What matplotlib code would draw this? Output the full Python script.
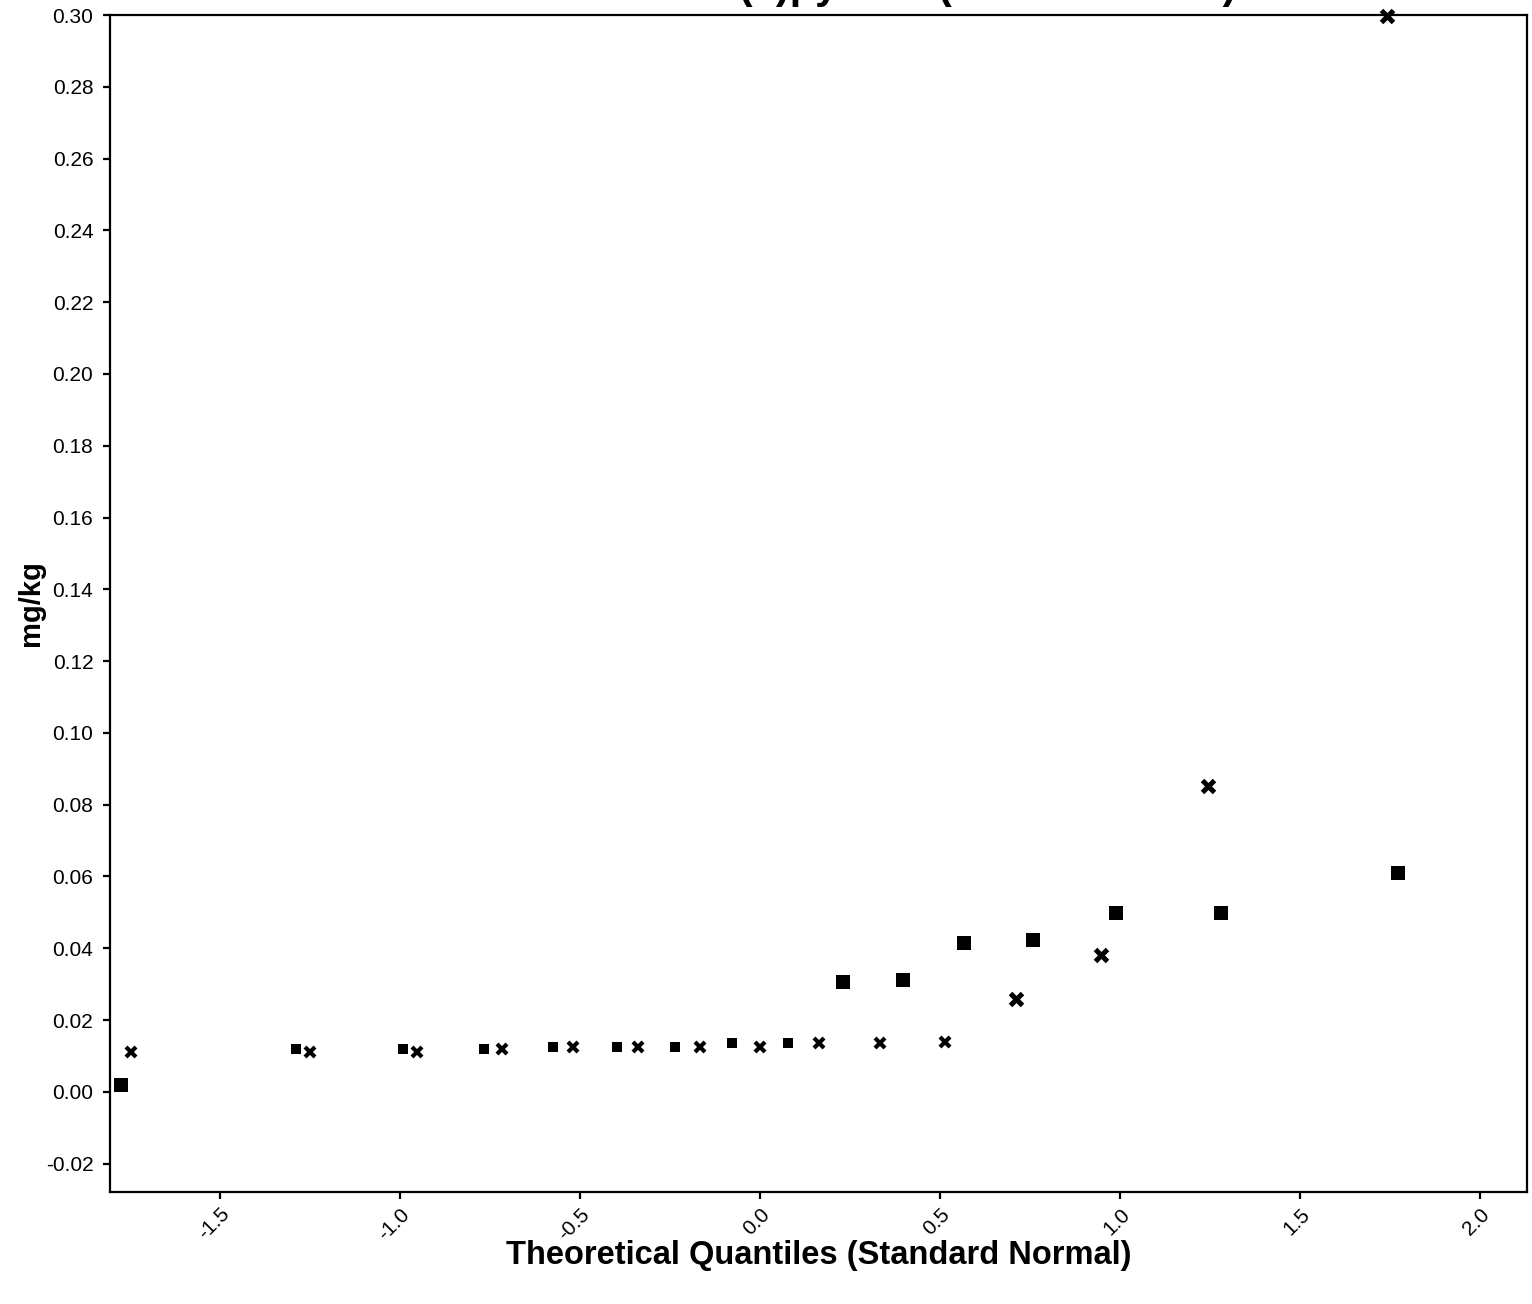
import matplotlib.pyplot as plt

plt.rcParams['font.family'] = ['Liberation Sans', 'DejaVu Sans']

# station 1 (squares): theoretical quantile, concentration
sq_det_q = [-1.775, 0.231, 0.397, 0.567, 0.758, 0.989, 1.281, 1.772]
sq_det_val = [0.002, 0.0306, 0.0312, 0.0415, 0.0423, 0.0499, 0.0499, 0.061]
sq_nd_q = [-1.289, -0.992, -0.767, -0.575, -0.397, -0.236, -0.078, 0.078]
sq_nd_val = [0.012, 0.012, 0.012, 0.0125, 0.0125, 0.0125, 0.0137, 0.0137]

# station 2 (crosses)
x_det_q = [0.711, 0.947, 1.244, 1.742]
x_det_val = [0.026, 0.038, 0.0853, 0.2998]
x_nd_q = [-1.747, -1.25, -0.953, -0.717, -0.519, -0.339, -0.167, 0.0,
          0.164, 0.333, 0.514]
x_nd_val = [0.011, 0.011, 0.011, 0.012, 0.0125, 0.0125, 0.0125, 0.0125,
            0.0137, 0.0137, 0.014]

x_ticks = [-1.5, -1.0, -0.5, 0.0, 0.5, 1.0, 1.5, 2.0]
y_ticks = [-0.02, 0.00, 0.02, 0.04, 0.06, 0.08, 0.10, 0.12, 0.14, 0.16,
           0.18, 0.20, 0.22, 0.24, 0.26, 0.28, 0.30]

fig = plt.figure(figsize=(15.32, 13.04), dpi=100)
ax = fig.add_axes([110 / 1532, 1 - 1192 / 1304, 1417 / 1532, 1177 / 1304])

ax.plot(sq_det_q, sq_det_val, 's', color='black', ms=9.5, mew=0, clip_on=False)
ax.plot(sq_nd_q, sq_nd_val, 's', color='black', ms=7, mew=0, clip_on=False)
ax.plot(x_det_q, x_det_val, 'x', color='black', ms=8.5, mew=3.6, clip_on=False)
ax.plot(x_nd_q, x_nd_val, 'x', color='black', ms=6.5, mew=3.0, clip_on=False)

ax.set_xlim(-1.806, 2.131)
ax.set_ylim(-0.0279, 0.30)
ax.set_xticks(x_ticks)
ax.set_xticklabels([f'{t:.1f}' for t in x_ticks], rotation=45, ha='right',
                   rotation_mode='anchor')
ax.set_yticks(y_ticks)
ax.set_yticklabels([f'{t:.2f}' for t in y_ticks])
ax.tick_params(direction='out', length=5, width=1.6, labelsize=15)
ax.tick_params(axis='y', pad=7)
ax.tick_params(axis='x', pad=4)
for s in ax.spines.values():
    s.set_linewidth(1.6)

ax.set_xlabel('Theoretical Quantiles (Standard Normal)', fontsize=23.5,
              fontweight='bold')
ax.xaxis.set_label_coords(0.5, -0.041)
ax.set_ylabel('mg/kg', fontsize=21, fontweight='bold')
ax.yaxis.set_label_coords(-0.046, 0.5)

# title sits mostly above the top edge of the canvas
fig.text(1236 / 1532, 1 + 2 / 1304, 'Benzo(a)pyrene (Both Stations)',
         ha='right', va='baseline', fontsize=30, fontweight='bold')

fig.savefig('out.png', dpi=100, facecolor='white')
